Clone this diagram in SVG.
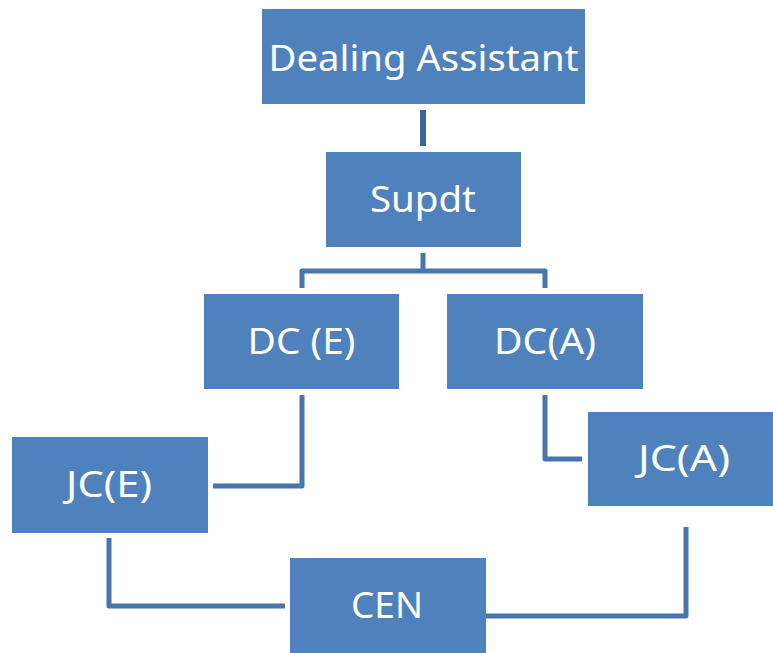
<svg xmlns="http://www.w3.org/2000/svg" width="773" height="653" viewBox="0 0 773 653">
<style>
.box{fill:#4f81bd;}
.lbl{fill:#ffffff;font-family:"Noto Sans","Open Sans",sans-serif;font-size:37px;text-anchor:middle;}
.con{fill:none;stroke:#4775ad;stroke-width:5;stroke-linejoin:round;}
</style>
<rect width="773" height="653" fill="#ffffff"/>
<g id="nodes">
<g id="dealing-assistant"><rect class="box" x="262" y="9" width="323" height="95"/><text class="lbl" x="423.5" y="71" textLength="310" lengthAdjust="spacingAndGlyphs">Dealing Assistant</text></g>
<g id="supdt"><rect class="box" x="326" y="152" width="195" height="95"/><text class="lbl" x="423" y="212" textLength="106" lengthAdjust="spacingAndGlyphs">Supdt</text></g>
<g id="dc-e"><rect class="box" x="204" y="294" width="195" height="95"/><text class="lbl" x="301.5" y="354" textLength="108" lengthAdjust="spacingAndGlyphs">DC (E)</text></g>
<g id="dc-a"><rect class="box" x="447" y="294" width="196" height="95"/><text class="lbl" x="545" y="354" textLength="102" lengthAdjust="spacingAndGlyphs">DC(A)</text></g>
<g id="jc-e"><rect class="box" x="12" y="437" width="196" height="96"/><text class="lbl" x="109" y="497" textLength="86" lengthAdjust="spacingAndGlyphs">JC(E)</text></g>
<g id="jc-a"><rect class="box" x="588" y="412" width="196" height="94"/><text class="lbl" x="684" y="471" textLength="92" lengthAdjust="spacingAndGlyphs">JC(A)</text></g>
<g id="cen"><rect class="box" x="290" y="558" width="196" height="95"/><text class="lbl" x="387" y="618" textLength="72" lengthAdjust="spacingAndGlyphs">CEN</text></g>
</g>
<g id="connectors">
<path class="con" d="M423,110 V146" style="stroke:#3d6698;stroke-width:6"/>
<path class="con" d="M423,253 V271 M302,288 V271 H545 V288"/>
<path class="con" d="M302,395 V486 H213"/>
<path class="con" d="M545,395 V459 H582"/>
<path class="con" d="M109,538 V606 H285"/>
<path class="con" d="M686,527 V616 H486"/>
</g>
</svg>
